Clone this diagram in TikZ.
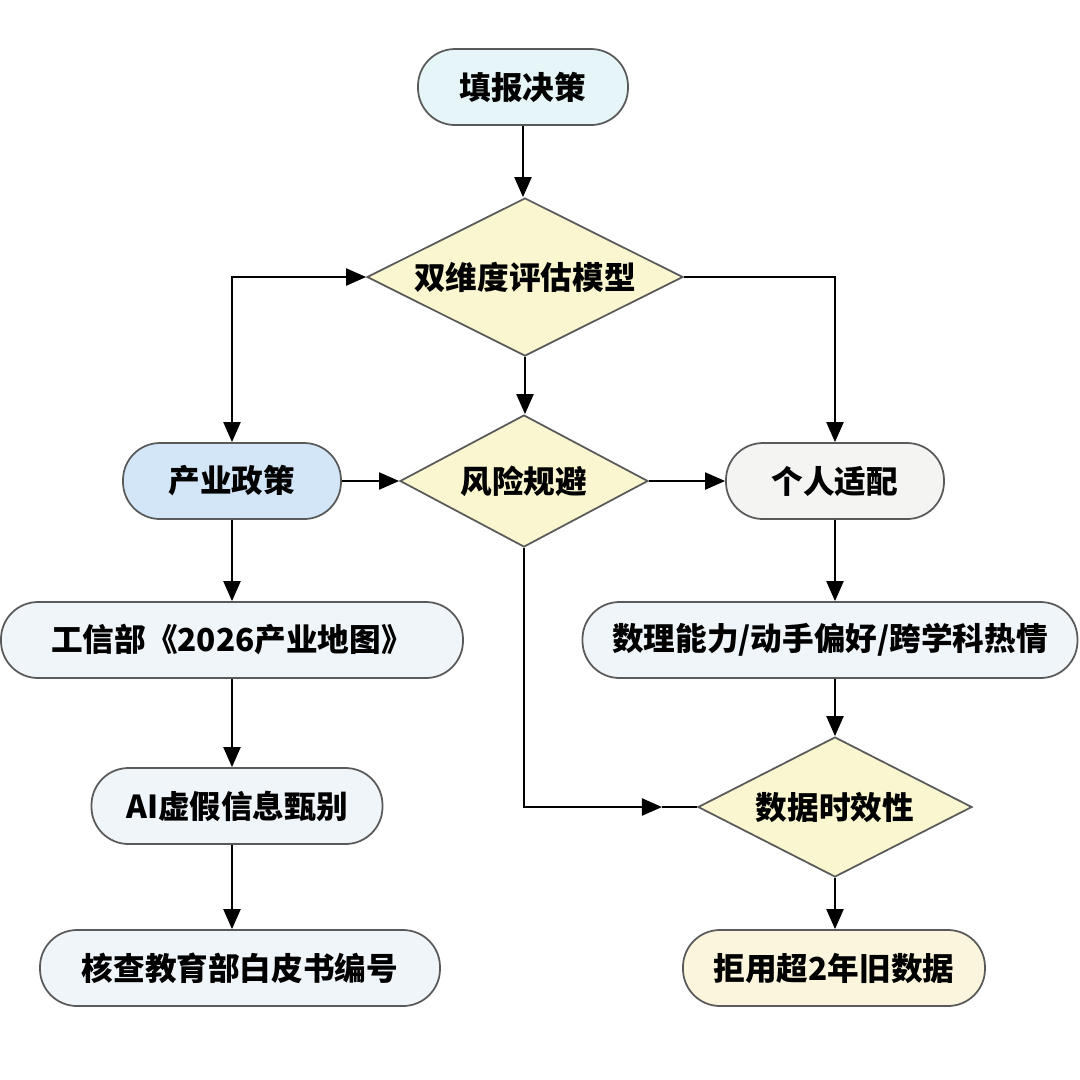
\documentclass[tikz,border=0pt]{standalone}
\usepackage{fontspec}
\setmainfont{Noto Sans CJK SC}
\usepackage{tikz}
\usetikzlibrary{shapes.geometric}
\usetikzlibrary{arrows.meta}
\usetikzlibrary{calc}

\definecolor{startfill}{HTML}{E6F5F7}
\definecolor{policyfill}{HTML}{D3E6F8}
\definecolor{selffill}{HTML}{F4F4F2}
\definecolor{paleblue}{HTML}{F0F5FA}
\definecolor{decfill}{HTML}{FAF6D0}
\definecolor{rejfill}{HTML}{FAF5DC}
\definecolor{edge}{HTML}{5A5A5A}

\tikzset{
	pill/.style={draw=edge,line width=0.5pt,shape=rectangle,rounded corners=3.7mm,minimum height=7.6mm,inner sep=0pt,fill=paleblue,font=\fontsize{9}{11}\selectfont\bfseries},
	choice/.style={draw=edge,line width=0.5pt,shape=diamond,shape aspect=2,inner sep=0pt,fill=decfill,font=\fontsize{9}{11}\selectfont\bfseries},
	link/.style={line width=0.6pt,-{Triangle[length=2mm,width=1.7mm]}}
}

\begin{document}
\begin{tikzpicture}[x=0.1mm,y=-0.1mm]
	\useasboundingbox (0,0) rectangle (1080,1080);
	\draw (523,87) node (start) [pill,fill=startfill,minimum width=21mm] {填报决策};
	\draw (525,277) node (model) [choice,minimum width=31.6mm,minimum height=15.8mm] {双维度评估模型};
	\draw (232,481) node (policy) [pill,fill=policyfill,minimum width=21.8mm] {产业政策};
	\draw (524,481) node (risk) [choice,shape aspect=1.88,minimum width=24.8mm,minimum height=13.2mm] {风险规避};
	\draw (835,481) node (self) [pill,fill=selffill,minimum width=21.8mm] {个人适配};
	\draw (232,640) node (map) [pill,minimum width=46.2mm] {工信部《2026产业地图》};
	\draw (830,640) node (traits) [pill,minimum width=49.5mm] {数理能力/动手偏好/跨学科热情};
	\draw (237,806) node (fake) [pill,minimum width=29.1mm] {AI虚假信息甄别};
	\draw (835,807) node (fresh) [choice,shape aspect=1.96,minimum width=27.4mm,minimum height=14mm] {数据时效性};
	\draw (240,968) node (check) [pill,minimum width=40mm] {核查教育部白皮书编号};
	\draw (834,968) node (reject) [pill,fill=rejfill,minimum width=30.2mm] {拒用超2年旧数据};
	\draw[link] (start) -- (start |- model.north);
	\draw[link] (model) -- (model |- risk.north);
	\draw[line width=0.6pt,{Triangle[length=2mm,width=1.7mm]}-{Triangle[length=2mm,width=1.7mm]}] (policy.north) |- (model.west);
	\draw[link] (model.east) -| (self.north);
	\draw[link] (policy) -- (risk);
	\draw[link] (risk) -- (self);
	\foreach \a/\b in {policy/map,map/fake,fake/check} {
		\draw[link] (\a.south -| policy) -- (\b.north -| policy);
	};
	\foreach \a/\b in {self/traits,traits/fresh,fresh/reject} {
		\draw[link] (\a.south -| self) -- (\b.north -| self);
	};
	\coordinate (turn) at (662,807);
	\draw[link] (risk.south) |- (turn);
	\draw[line width=0.6pt] (turn) -- (fresh.west);
\end{tikzpicture}
\end{document}
